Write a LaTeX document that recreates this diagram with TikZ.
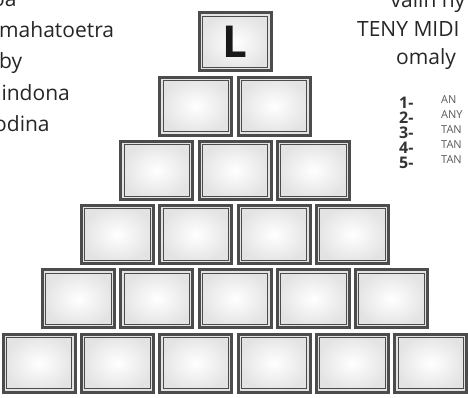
\documentclass[tikz,border=0pt]{standalone}
\usepackage{fontspec}
\setmainfont{Open Sans}
\usetikzlibrary{calc}

\tikzset{
	brick/.style = {draw=gray!60!black, line width=3pt, inner color=white, outer color=gray!22,
		minimum width=72pt, minimum height=58pt, inner sep=0pt,
		path picture={\draw[gray!60!black, line width=1pt]
			([shift={(3.3pt,3.3pt)}]path picture bounding box.south west) rectangle
			([shift={(-3.3pt,-3.3pt)}]path picture bounding box.north east);}},
	lefttxt/.style = {anchor=base west, inner sep=0pt, font=\fontsize{21}{21}\selectfont, text=black!85},
	numtxt/.style = {anchor=base west, inner sep=0pt, font=\fontsize{16}{16}\selectfont\bfseries, text=black!80},
	itemtxt/.style = {anchor=base west, inner sep=0pt, font=\fontsize{11}{11}\selectfont, text=black!65}
}

\begin{document}
\begin{tikzpicture}[x=1pt, y=-1pt]
	\useasboundingbox (0,0) rectangle (468,398);
	\clip (0,0) rectangle (468,398);

	% pyramid of blocks
	\foreach \r in {0,...,5}{
		\foreach \i in {0,...,\r}{
			\node[brick] (b-\r-\i) at ({235+78.3*(\i-\r/2)},{42+64.2*\r}) {};
		}
	}
	\node[font=\fontsize{44}{44}\selectfont\bfseries, text=black!90] (lettre) at (b-0-0) {L};

	% left text
	\node[lefttxt] (l0) at (-8,7) {oa};
	\node[lefttxt] (l1) at (-1,38) {mahatoetra};
	\node[lefttxt] (l2) at (-1,69) {by};
	\node[lefttxt] (l3) at (-4,101) {lindona};
	\node[lefttxt] (l4) at (-6,132) {odina};

	% right text
	\node[lefttxt, anchor=base] (r0) at (428,8) {valin ny};
	\node[lefttxt, anchor=base west] (r1) at (357,37) {TENY MIDI};
	\node[lefttxt, anchor=base] (r2) at (426,65) {omaly};

	% list
	\foreach \n/\t in {1/AN,2/ANY,3/TAN,4/TAN,5/TAN}{
		\node[numtxt] (n\n) at (399,{94+15*\n}) {\n-};
		\node[itemtxt] (t\n) at (441,{89+15*\n}) {\t};
	}
\end{tikzpicture}
\end{document}
